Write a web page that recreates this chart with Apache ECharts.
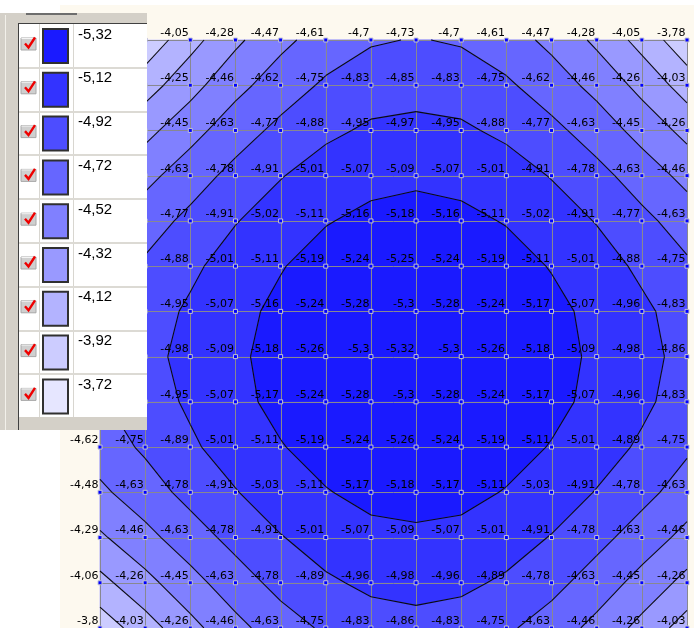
<!DOCTYPE html>
<html><head><meta charset="utf-8">
<script src="https://cdn.jsdelivr.net/npm/echarts@6/dist/echarts.min.js"></script>
<style>html,body{margin:0;padding:0;background:#fff}#c{width:694px;height:628px}</style>
</head><body><div id="c"></div><script>
// grid values, row 0 = top row, column 0 = left column
const row00 = [-3.55, -3.78, -4.05, -4.28, -4.47, -4.61, -4.7, -4.73, -4.7, -4.61, -4.47, -4.28, -4.05, -3.78];
const row01 = [-3.8, -4.03, -4.25, -4.46, -4.62, -4.75, -4.83, -4.85, -4.83, -4.75, -4.62, -4.46, -4.26, -4.03];
const row02 = [-4.05, -4.26, -4.45, -4.63, -4.77, -4.88, -4.95, -4.97, -4.95, -4.88, -4.77, -4.63, -4.45, -4.26];
const row03 = [-4.28, -4.46, -4.63, -4.78, -4.91, -5.01, -5.07, -5.09, -5.07, -5.01, -4.91, -4.78, -4.63, -4.46];
const row04 = [-4.47, -4.63, -4.77, -4.91, -5.02, -5.11, -5.16, -5.18, -5.16, -5.11, -5.02, -4.91, -4.77, -4.63];
const row05 = [-4.61, -4.75, -4.88, -5.01, -5.11, -5.19, -5.24, -5.25, -5.24, -5.19, -5.11, -5.01, -4.88, -4.75];
const row06 = [-4.7, -4.83, -4.95, -5.07, -5.16, -5.24, -5.28, -5.3, -5.28, -5.24, -5.17, -5.07, -4.96, -4.83];
const row07 = [-4.73, -4.86, -4.98, -5.09, -5.18, -5.26, -5.3, -5.32, -5.3, -5.26, -5.18, -5.09, -4.98, -4.86];
const row08 = [-4.7, -4.83, -4.95, -5.07, -5.17, -5.24, -5.28, -5.3, -5.28, -5.24, -5.17, -5.07, -4.96, -4.83];
const row09 = [-4.62, -4.75, -4.89, -5.01, -5.11, -5.19, -5.24, -5.26, -5.24, -5.19, -5.11, -5.01, -4.89, -4.75];
const row10 = [-4.48, -4.63, -4.78, -4.91, -5.03, -5.11, -5.17, -5.18, -5.17, -5.11, -5.03, -4.91, -4.78, -4.63];
const row11 = [-4.29, -4.46, -4.63, -4.78, -4.91, -5.01, -5.07, -5.09, -5.07, -5.01, -4.91, -4.78, -4.63, -4.46];
const row12 = [-4.06, -4.26, -4.45, -4.63, -4.78, -4.89, -4.96, -4.98, -4.96, -4.89, -4.78, -4.63, -4.45, -4.26];
const row13 = [-3.8, -4.03, -4.26, -4.46, -4.63, -4.75, -4.83, -4.86, -4.83, -4.75, -4.63, -4.46, -4.26, -4.03];
const gridRows = [row00,row01,row02,row03,row04,row05,row06,row07,row08,row09,row10,row11,row12,row13];

// contour levels (legend entries)
const levels = [-5.32, -5.12, -4.92, -4.72, -4.52, -4.32, -4.12, -3.92, -3.72];

const bandColors = ['#1a1aff','#3333ff','#4d4dff','#6666ff','#8080ff','#9999ff','#b3b3ff','#ccccff','#e6e6ff'];
const nR = gridRows.length, nC = gridRows[0].length;
const fmt = v => String(v).replace('.', ',');

const cells = [];
for (let j = 0; j < nR - 1; j++) for (let i = 0; i < nC - 1; i++) cells.push([i, j]);
const pts = [];
for (let j = 0; j < nR; j++) for (let i = 0; i < nC; i++) pts.push([i, j, gridRows[j][i]]);

function corners(i, j) {
  return [
    {x:i, y:j, v:gridRows[j][i]},
    {x:i+1, y:j, v:gridRows[j][i+1]},
    {x:i+1, y:j+1, v:gridRows[j+1][i+1]},
    {x:i, y:j+1, v:gridRows[j+1][i]}
  ];
}
function clip(poly, t, above) {
  const out = [];
  for (let k = 0; k < poly.length; k++) {
    const a = poly[k], b = poly[(k+1) % poly.length];
    const ain = above ? a.v >= t : a.v <= t;
    const bin = above ? b.v >= t : b.v <= t;
    if (ain) out.push(a);
    if (ain !== bin) {
      const s = (t - a.v) / (b.v - a.v);
      out.push({x:a.x + s*(b.x-a.x), y:a.y + s*(b.y-a.y), v:t});
    }
  }
  return out;
}
function renderFill(params, api) {
  const i = api.value(0), j = api.value(1);
  const c = corners(i, j);
  const children = [];
  for (let k = 0; k < bandColors.length; k++) {
    const lo = k === 0 ? -Infinity : levels[k];
    const hi = k === bandColors.length - 1 ? Infinity : levels[k+1];
    let p = clip(c, lo, true);
    if (p.length < 3) continue;
    p = clip(p, hi, false);
    if (p.length < 3) continue;
    children.push({type:'polygon', shape:{points:p.map(q => api.coord([q.x, q.y]))},
      style:{fill:bandColors[k], stroke:bandColors[k], lineWidth:0.8}});
  }
  return {type:'group', children};
}
function renderContour(params, api) {
  const i = api.value(0), j = api.value(1);
  const c = corners(i, j);
  const children = [];
  levels.forEach(t => {
    const cr = [];
    for (let k = 0; k < 4; k++) {
      const a = c[k], b = c[(k+1)%4];
      if ((a.v < t) !== (b.v < t)) {
        const s = (t - a.v) / (b.v - a.v);
        cr.push(api.coord([a.x + s*(b.x-a.x), a.y + s*(b.y-a.y)]));
      }
    }
    for (let k = 0; k + 1 < cr.length; k += 2) {
      children.push({type:'line', shape:{x1:cr[k][0], y1:cr[k][1], x2:cr[k+1][0], y2:cr[k+1][1]},
        style:{stroke:'#0a0a12', lineWidth:1.1}});
    }
  });
  return {type:'group', children};
}
function renderGridLines(params, api) {
  const children = [];
  const tl = api.coord([0, 0]), br = api.coord([nC-1, nR-1]);
  for (let i = 0; i < nC; i++) {
    const x = Math.round(api.coord([i, 0])[0]) + 0.5;
    children.push({type:'line', shape:{x1:x, y1:tl[1], x2:x, y2:br[1]}, style:{stroke:'#888890', lineWidth:1}});
  }
  for (let j = 0; j < nR; j++) {
    const y = Math.round(api.coord([0, j])[1]) + 0.5;
    children.push({type:'line', shape:{x1:tl[0], y1:y, x2:br[0], y2:y}, style:{stroke:'#888890', lineWidth:1}});
  }
  return {type:'group', children};
}

// legend panel graphics
const G = [];
G.push({type:'rect', z:0, shape:{x:60, y:5, width:634, height:623}, style:{fill:'#fdf9ef'}});
G.push({type:'rect', z:100, shape:{x:0, y:13, width:147, height:417}, style:{fill:'#d4d0c8'}});
G.push({type:'line', z:101, shape:{x1:5.5, y1:15, x2:5.5, y2:430}, style:{stroke:'#f2f0ea', lineWidth:1}});
G.push({type:'rect', z:101, shape:{x:26, y:13, width:51, height:2}, style:{fill:'#6e6e6e'}});
G.push({type:'rect', z:101, shape:{x:19, y:24, width:128, height:393}, style:{fill:'#ffffff'}});
G.push({type:'line', z:102, shape:{x1:18.5, y1:23, x2:18.5, y2:430}, style:{stroke:'#404040', lineWidth:1}});
G.push({type:'line', z:102, shape:{x1:18, y1:23.5, x2:147, y2:23.5}, style:{stroke:'#404040', lineWidth:1}});
const rowH = 43.8;
G.push({type:'line', z:102, shape:{x1:39.5, y1:24, x2:39.5, y2:417}, style:{stroke:'#d8d6d0', lineWidth:1}});
G.push({type:'line', z:102, shape:{x1:73.5, y1:24, x2:73.5, y2:417}, style:{stroke:'#d8d6d0', lineWidth:1}});
levels.forEach((lv, k) => {
  const top = 24 + k * rowH;
  if (k > 0) G.push({type:'rect', z:102, shape:{x:19, y:Math.round(top)-1, width:128, height:2}, style:{fill:'#dcdad4'}});
  G.push({type:'rect', z:103, shape:{x:21, y:top+14, width:15, height:12}, style:{fill:'#cfcfcf', stroke:'#a8a8a8', lineWidth:1}});
  G.push({type:'line', z:103, shape:{x1:21.5, y1:top+14.5, x2:35.5, y2:top+14.5}, style:{stroke:'#f4f4f4', lineWidth:1}});
  G.push({type:'polyline', z:104, shape:{points:[[25, top+19.5],[28.5, top+23.5],[35, top+13.5]]}, style:{stroke:'#ee0000', lineWidth:2.4, fill:null}});
  G.push({type:'rect', z:103, shape:{x:43, y:top+5, width:25, height:34}, style:{fill:bandColors[k], stroke:'#303030', lineWidth:2}});
  G.push({type:'text', z:103, x:78, y:top+3, style:{text:fmt(lv), font:'15px "Liberation Sans", Arial, sans-serif', fill:'#000', textAlign:'left', textVerticalAlign:'top'}});
});

const chart = echarts.init(document.getElementById('c'), null, {renderer:'canvas'});
chart.setOption({
  animation: false,
  backgroundColor: '#ffffff',
  grid: {left:100, top:40, width:587, height:589, containLabel:false},
  xAxis: {type:'value', min:0, max:nC-1, show:false},
  yAxis: {type:'value', min:0, max:nR-1, inverse:true, show:false},
  graphic: G,
  series: [
    {type:'custom', z:1, data:cells, renderItem:renderFill, silent:true},
    {type:'custom', z:2, data:[[0,0]], renderItem:renderGridLines, silent:true},
    {type:'custom', z:3, data:cells, renderItem:renderContour, silent:true},
    {type:'scatter', z:5, data:pts, clip:false, symbol:'rect', symbolSize:4,
     itemStyle:{color:'#0000ff', borderColor:'#c4c4d4', borderWidth:1, opacity:1},
     label:{show:true, position:'left', distance:0, offset:[1,-7], align:'right',
       color:'#000', fontSize:11, fontFamily:'"DejaVu Sans", sans-serif',
       formatter: p => fmt(p.value[2])}}
  ]
});
</script></body></html>
